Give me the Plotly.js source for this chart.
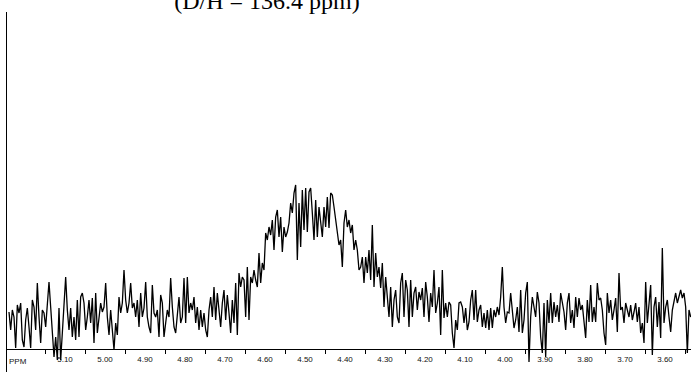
<!DOCTYPE html>
<html>
<head>
<meta charset="utf-8">
<script src="https://cdn.plot.ly/plotly-3.0.1.min.js"></script>
<style>
  html, body { margin: 0; padding: 0; background: #fff; }
  #chart { width: 691px; height: 372px; }
</style>
</head>
<body>
<div id="chart"></div>
<script>
// Spectrum sampling (ppm)
const ppmStart = 5.24;
const ppmStep = -1 / 240;

// Intensities, left to right (5.24 ppm -> 3.54 ppm)
const intensityA = [37,19,39,32,1,44,36,46,9,2,29,41,22,1,49,42,19,66,32,6,39,36,22,49,67,42,12,-8,12,-11,41,-11,16,39,72,39,19,41,12,32,9,49,12,52,56,46,19,32,49,26,51,6,56,16,32,46,37,42,66,32,14,39,19,-1,26,14,52,36,46,79,49,36,46,66,41,46,32,49,22,56,32,41];
const intensityB = [67,32,22,16,64,36,32,39,12,54,46,12,26,39,32,71,42,22,16,39,52,26,32,71,26,72,36,46,39,52,26,42,19,39,22,36,19,12,39,52,32,62,29,56,36,22,46,59,29,54,36,16,49,26,66,14,76,62,72,69,32,82,29,72,66,79,69,62,96,66,86,79,116,109,122,114,129,99,132,139,112];
const intensityC = [132,97,122,112,117,126,146,136,156,164,89,146,102,159,119,161,117,157,161,136,109,149,112,142,129,112,142,122,152,121,156,154,142,129,116,104,109,82,126,139,122,129,116,124,99,109,99,79,82,92,66,92,76,99,69,124,62,96,72,82,61,86,42,72,52,32,62,22,49,59,32,26,66,76,32,69,59,22,69,32,56];
const intensityD = [62,39,57,49,61,32,67,52,27,56,42,79,36,46,62,14,79,31,46,32,47,44,16,1,29,19,46,47,42,26,41,19,27,49,59,29,59,27,39,44,22,36,21,39,19,41,21,39,32,42,34,52,82,42,26,37,36,56,41,21,29,42,17,59,16,29,56,67,-13,32,52,41,32,57,46,12,-4,46,-8,49,26];
const intensityE = [56,26,47,32,44,27,56,46,37,19,46,56,26,39,21,52,32,51,39,44,26,11,49,27,64,27,42,27,66,49,51,39,16,4,56,36,49,29,39,51,17,76,39,42,26,46,39,32,44,29,37,46,27,42,16,26,6,67,26,42,64,-6,42,52,22,47,11,101,26,42,49,32,17,39,49,56,46,52,59,51,56,42,-4,39,32];

// Axis labels
const labelVals = [5.10,5.00,4.90,4.80,4.70,4.60,4.50,4.40,4.30,4.20,4.10,4.00,3.90,3.80,3.70,3.60];
const labelText = ['5.10','5.00','4.90','4.80','4.70','4.60','4.50','4.40','4.30','4.20','4.10','4.00','3.90','3.80','3.70','3.60'];
const tickMarkVals = [5.15,5.05,4.95,4.85,4.75,4.65,4.55,4.45,4.35,4.25,4.15,4.05,3.95,3.85,3.75,3.65,3.55];
const titleText = '(D/H = 136.4 ppm)';
const unitText = 'PPM';

const intensity = [].concat(intensityA, intensityB, intensityC, intensityD, intensityE);

const trace = {
  type: 'scatter',
  mode: 'lines',
  x0: ppmStart,
  dx: ppmStep,
  y: intensity,
  line: { color: '#000', width: 1.3 },
  hoverinfo: 'skip'
};

const axisPos = 23 / 360;

const layout = {
  width: 691,
  height: 372,
  margin: { l: 7, r: 0, t: 12, b: 0, pad: 0 },
  paper_bgcolor: '#fff',
  plot_bgcolor: '#fff',
  showlegend: false,
  title: {
    text: titleText,
    font: { family: '"Liberation Serif", "Times New Roman", serif', size: 24, color: '#000' },
    xref: 'container', yref: 'container',
    x: 267 / 691, xanchor: 'center',
    y: 1 - 8.5 / 372, yanchor: 'bottom'
  },
  xaxis: {
    range: [5.245, 3.535],
    anchor: 'free',
    position: axisPos,
    showline: true,
    linecolor: '#000',
    linewidth: 1,
    showgrid: false,
    zeroline: false,
    ticks: '',
    tickmode: 'array',
    tickvals: labelVals,
    ticktext: labelText,
    ticklabelstandoff: 2,
    tickfont: { family: '"Liberation Sans", Arial, sans-serif', size: 8, color: '#111' },
    minor: {
      tickmode: 'array',
      tickvals: tickMarkVals,
      ticks: 'outside',
      ticklen: 4,
      tickcolor: '#000',
      tickwidth: 1,
      showgrid: false
    }
  },
  yaxis: {
    range: [-23, 337],
    showline: true,
    linecolor: '#000',
    linewidth: 1,
    showgrid: false,
    zeroline: false,
    showticklabels: false,
    ticks: ''
  },
  annotations: [{
    text: unitText,
    xref: 'paper', yref: 'paper',
    x: 0, y: axisPos,
    xanchor: 'left', yanchor: 'top',
    xshift: 0, yshift: -6,
    showarrow: false,
    font: { family: '"Liberation Sans", Arial, sans-serif', size: 8, color: '#111' }
  }]
};

Plotly.newPlot('chart', [trace], layout, { staticPlot: true, displayModeBar: false });
</script>
</body>
</html>
